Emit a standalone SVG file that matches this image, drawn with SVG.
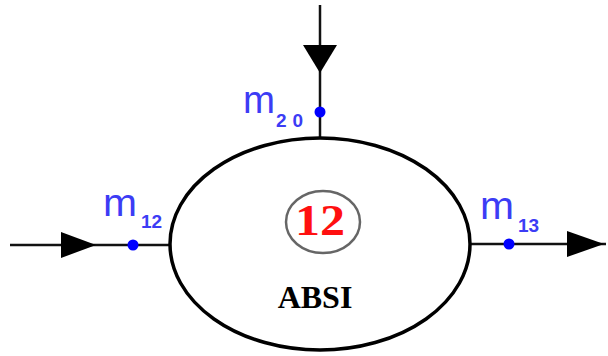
<svg xmlns="http://www.w3.org/2000/svg" width="608" height="356" viewBox="0 0 608 356">
<style>
.ln{stroke:#111;stroke-width:2.5;fill:none}
.ah{fill:#000}
.dot{fill:#0000ff}
.m{font-family:"Liberation Sans",Arial,sans-serif;fill:#3c3cf5;font-size:38px}
.sub{font-family:"Liberation Sans",Arial,sans-serif;fill:#3c3cf5;font-size:19px;font-weight:bold}
</style>
<rect width="608" height="356" fill="#fff"/>
<g id="connectors">
<line class="ln" x1="320" y1="5" x2="320" y2="138"/>
<polygon class="ah" points="303,45 337,45 320,73"/>
<line class="ln" x1="10" y1="245" x2="170" y2="245"/>
<polygon class="ah" points="61,232 61,258 96,245"/>
<line class="ln" x1="470" y1="244" x2="606" y2="244"/>
<polygon class="ah" points="567,231 567,257 604,244"/>
</g>
<g id="node12">
<ellipse cx="320" cy="244" rx="150" ry="106" fill="#fff" stroke="#000" stroke-width="3.5"/>
<ellipse cx="323" cy="222" rx="37" ry="31" fill="#fff" stroke="#666" stroke-width="2.5"/>
<text x="320" y="235" text-anchor="middle" font-family="Liberation Serif,'Times New Roman',serif" font-weight="bold" font-size="44" fill="#ff1010" textLength="50" lengthAdjust="spacingAndGlyphs">12</text>
<text x="315" y="308" text-anchor="middle" font-family="Liberation Serif,'Times New Roman',serif" font-weight="bold" font-size="32" fill="#000">ABSI</text>
</g>
<g id="m20">
<circle class="dot" cx="320" cy="112" r="5.5"/>
<text class="m" x="243" y="113" textLength="32" lengthAdjust="spacingAndGlyphs">m</text>
<text class="sub" x="276" y="127" letter-spacing="6">20</text>
</g>
<g id="m12">
<circle class="dot" cx="133" cy="245" r="5.5"/>
<text class="m" x="103" y="216" textLength="34" lengthAdjust="spacingAndGlyphs">m</text>
<text class="sub" x="141" y="228">12</text>
</g>
<g id="m13">
<circle class="dot" cx="509" cy="244" r="5.5"/>
<text class="m" x="480" y="219" textLength="34" lengthAdjust="spacingAndGlyphs">m</text>
<text class="sub" x="518" y="232">13</text>
</g>
</svg>
